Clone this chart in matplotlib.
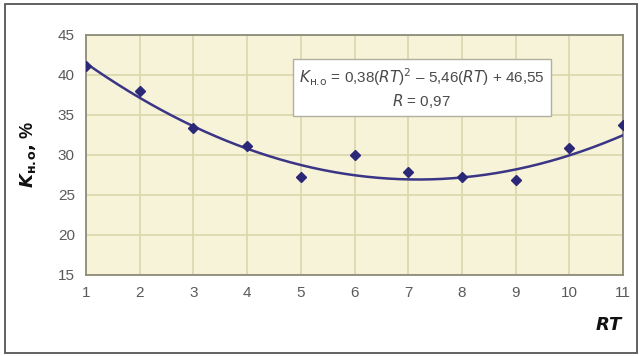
import numpy as np
import matplotlib
matplotlib.use("Agg")
import matplotlib.pyplot as plt
from matplotlib.patches import Rectangle

# measured values
rt = [1, 2, 3, 4, 5, 6, 7, 8, 9, 10, 11]
k_no = [41.1, 38.0, 33.4, 31.1, 27.2, 30.0, 27.9, 27.2, 26.9, 30.9, 33.8]

# quadratic trend coefficients (a*x^2 + b*x + c)
fit_a, fit_b, fit_c = 0.38, -5.46, 46.55
r_value = "0,97"

y_ticks = [15, 20, 25, 30, 35, 40, 45]

FONT = "Liberation Sans Narrow"
plt.rcParams["font.family"] = [FONT, "Liberation Sans", "DejaVu Sans"]
plt.rcParams["mathtext.fontset"] = "custom"
plt.rcParams["mathtext.rm"] = FONT
plt.rcParams["mathtext.it"] = FONT + ":italic"
plt.rcParams["mathtext.bf"] = FONT + ":bold"
plt.rcParams["mathtext.bfit"] = FONT + ":italic:bold"

fig = plt.figure(figsize=(6.42, 3.56), dpi=100)
fig.patch.set_facecolor("white")

# outer frame
fig.patches.append(Rectangle((5 / 642, 3 / 356), 632 / 642, 349 / 356,
                             transform=fig.transFigure, fill=False,
                             edgecolor="#555555", linewidth=1.3))

ax = fig.add_axes([86 / 642, 81 / 356, 537 / 642, 240 / 356])
ax.set_facecolor("#f7f3d8")

xs = np.linspace(1, 11, 200)
ax.plot(xs, fit_a * xs ** 2 + fit_b * xs + fit_c, color="#3a3585", lw=1.8, zorder=3)
ax.plot(rt, k_no, linestyle="none", marker="D", markersize=5.5,
        color="#2c2878", zorder=4)

ax.set_xlim(1, 11)
ax.set_ylim(15, 45)
ax.set_xticks(rt)
ax.set_yticks(y_ticks)
ax.grid(True, color="#dcd6ab", linewidth=1.2)
ax.set_axisbelow(True)
ax.tick_params(length=0, labelsize=11, labelcolor="#5a5a5a", pad=8)
for s in ax.spines.values():
    s.set_color("#8c8c78")
    s.set_linewidth(1.3)

eq = (r"$\mathit{K}_{\rm н.\!о}$ = 0,38($\mathit{RT}$)$^{2}$ – "
      r"5,46($\mathit{RT}$) + " + f"{fit_c:.2f}".replace(".", ","))
ax.text(0.625, 0.78, eq + "\n" + r"$\mathit{R}$ = " + r_value,
        transform=ax.transAxes, ha="center", va="center", fontsize=11,
        color="#4a4a4a", linespacing=1.3, zorder=5,
        bbox=dict(boxstyle="square,pad=0.4", facecolor="white",
                  edgecolor="#b0b0a0", linewidth=1.0))

fig.text(610 / 642, 1 - 326 / 356, r"$\mathbfit{RT}$", fontsize=13,
         ha="center", va="center", color="#111111")
fig.text(28 / 642, 1 - 155 / 356, r"$\mathbfit{K}_{\mathbf{н.\!о}}$" + r"$\mathbf{,}$ %",
         rotation=90, fontsize=13, ha="center", va="center",
         color="#111111", fontweight="bold")

fig.savefig("out.png", dpi=100)
